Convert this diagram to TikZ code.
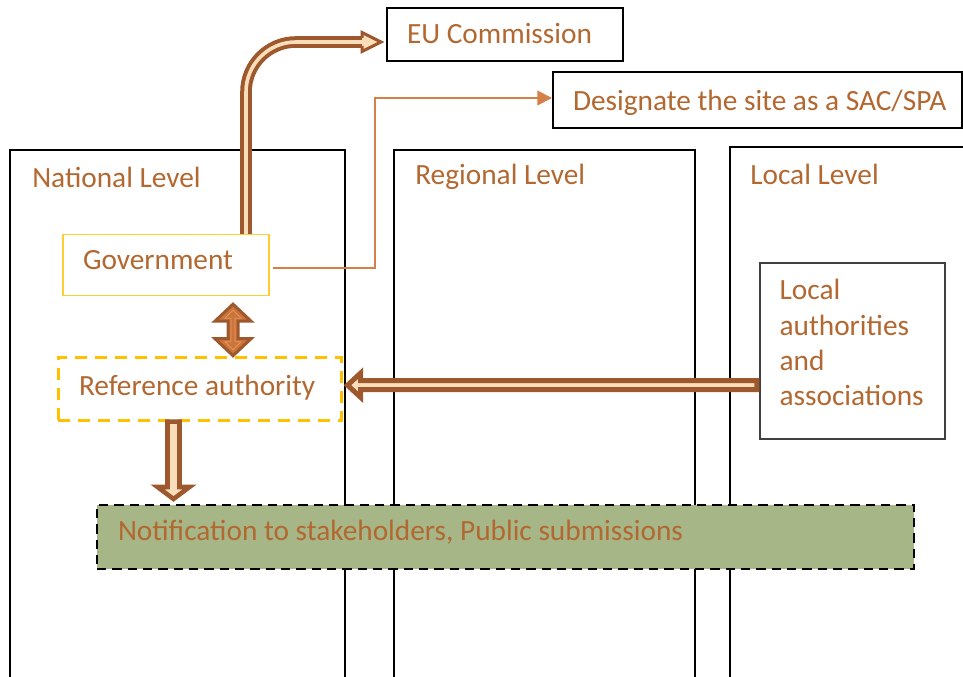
\documentclass[tikz,border=0pt]{standalone}
\usepackage{fontspec}
\setmainfont{Carlito}
\usetikzlibrary{calc,arrows.meta}

\definecolor{txtbrown}{RGB}{178,104,48}
\definecolor{arrbrown}{RGB}{158,88,45}
\definecolor{arrlight}{RGB}{250,222,186}
\definecolor{arrorange}{RGB}{204,117,58}
\definecolor{arrorangelight}{RGB}{228,150,95}
\definecolor{desline}{RGB}{212,128,72}
\definecolor{gold}{RGB}{255,192,0}
\definecolor{govyellow}{RGB}{255,204,51}
\definecolor{notegreen}{RGB}{166,182,135}
\definecolor{boxgray}{RGB}{64,64,64}

% left-aligned single line of a given width
\newcommand{\boxline}[2]{\makebox[#1][l]{#2}}

\begin{document}
\begin{tikzpicture}[x=0.75pt,y=-0.75pt,
  every node/.style={font=\fontsize{22}{26.5}\selectfont, text=txtbrown},
  box/.style={rectangle, draw=black, line width=1.5pt, fill=white,
    inner xsep=15pt, inner ysep=0pt, text depth=0pt},
  column/.style={draw=black, line width=1.5pt},
  lvl/.style={anchor=base west, inner sep=0pt},
  blockarrow/.style={fill=arrlight, draw=arrbrown, line join=miter},
  twoway/.style={fill=arrorange, draw=arrbrown, line width=2.25pt, line join=miter},
  dblline/.style={draw=arrbrown, double=arrlight, line width=3pt, double distance=2.7pt},
  thinarrow/.style={draw=desline, line width=1.5pt,
    -{Triangle[length=11pt, width=11pt]}},
]
\useasboundingbox (0,0) rectangle (963,677);

% the three level columns, running off the bottom and right edges
\begin{scope}
  \clip (0,0) rectangle (963,677);
  \draw[column] (10,150) rectangle (345,720);
  \draw[column] (394,150) rectangle (695,720);
  \draw[column] (730,147) rectangle (1010,720);
\end{scope}

\node[lvl] (natl) at (32,188) {National Level};
\node[lvl] (regl) at (415,185) {Regional Level};
\node[lvl] (locl) at (750,185) {Local Level};

% boxes
\node[box, text height=14pt, minimum height=39.75pt] (eu) at (505,34.5)
  {\boxline{147pt}{EU Commission}};
\node[box, text height=15.3pt, minimum height=42pt] (des) at (757.5,100)
  {\boxline{276.75pt}{Designate the site as a SAC/SPA}};
\node[box, draw=govyellow, line width=1pt, text height=6.5pt, minimum height=45.75pt] (gov) at (166,265)
  {\boxline{124.5pt}{Government}};
\node[box, draw=gold, line width=2.25pt, dash pattern=on 9pt off 6pt,
  inner xsep=15.75pt, text height=9.5pt, minimum height=47.25pt] (ref) at (199.5,388.7)
  {\boxline{180.75pt}{Reference authority}};
\node[box, draw=boxgray, line width=1pt, minimum width=138.75pt, minimum height=132pt,
  inner sep=0pt] (la) at (852.5,351) {};
\node[anchor=north west, inner sep=0pt, align=left] (latxt) at ($(la.north west)+(20,17)$)
  {Local\\authorities\\and\\associations};
\node[box, fill=notegreen, dash pattern=on 7pt off 4.5pt, inner xsep=15.75pt,
  text height=4.5pt, minimum height=48pt] (note) at (505.5,537)
  {\boxline{581.25pt}{Notification to stakeholders, Public submissions}};

% Government -> EU Commission (double-line arrow with rounded bend)
\coordinate (euTip) at ($(eu.west)+(-2,7.5)$);
\coordinate (euBase) at ($(euTip)+(-22,0)$);
\coordinate (euFoot) at ($(gov.north)+(80,0)$);
\draw[dblline, rounded corners=37.5pt] (euFoot) |- (euBase);
\filldraw[blockarrow, line width=2.25pt]
  ($(euBase)+(0,-4)$) -- ($(euBase)+(0,-9.5)$) -- ($(euTip)+(-3,0)$)
  -- ($(euBase)+(0,9.5)$) -- ($(euBase)+(0,4)$);

% Government -> Designate the site
\draw[thinarrow] ($(gov.east)+(3,2.5)$) -- ++(102,0) |- ($(des.west)+(0,-2)$);

% Government <-> Reference authority
\coordinate (gvTip) at ($(gov.south)+(67,8)$);
\coordinate (rfTip) at (gvTip |- ref.north);
\filldraw[twoway] (gvTip) -- ($(gvTip)+(18,17)$) -- ($(gvTip)+(5,17)$)
  -- ($(rfTip)+(5,-17)$) -- ($(rfTip)+(18,-17)$) -- (rfTip)
  -- ($(rfTip)+(-18,-17)$) -- ($(rfTip)+(-5,-17)$)
  -- ($(gvTip)+(-5,17)$) -- ($(gvTip)+(-18,17)$) -- cycle;
\draw[draw=arrorangelight, line width=0.6pt, line join=miter]
  ($(gvTip)+(0,6)$) -- ($(gvTip)+(8,14)$) -- ($(gvTip)+(2,14)$)
  -- ($(rfTip)+(2,-14)$) -- ($(rfTip)+(8,-14)$) -- ($(rfTip)+(0,-6)$)
  -- ($(rfTip)+(-8,-14)$) -- ($(rfTip)+(-2,-14)$)
  -- ($(gvTip)+(-2,14)$) -- ($(gvTip)+(-8,14)$) -- cycle;

% Local authorities -> Reference authority
\coordinate (raTip) at ($(ref.east)+(1,-3.5)$);
\coordinate (laFoot) at (la.west |- raTip);
\filldraw[blockarrow, line width=3.75pt] ($(raTip)+(4,0)$) -- ($(raTip)+(17,-12)$)
  -- ($(raTip)+(17,-4.5)$) -- ($(laFoot)+(-2.5,-4.5)$) -- ($(laFoot)+(-2.5,4.5)$)
  -- ($(raTip)+(17,4.5)$) -- ($(raTip)+(17,12)$) -- cycle;

% Reference authority -> Notification
\coordinate (dnFoot) at ($(ref.south)+(-26,0)$);
\coordinate (dnTip) at (dnFoot |- note.north);
\filldraw[blockarrow, line width=3.4pt] ($(dnFoot)+(-6,0)$) -- ($(dnTip)+(-6,-17)$)
  -- ($(dnTip)+(-16,-17)$) -- ($(dnTip)+(0,-5)$) -- ($(dnTip)+(16,-17)$)
  -- ($(dnTip)+(6,-17)$) -- ($(dnFoot)+(6,0)$) -- cycle;
\end{tikzpicture}
\end{document}
